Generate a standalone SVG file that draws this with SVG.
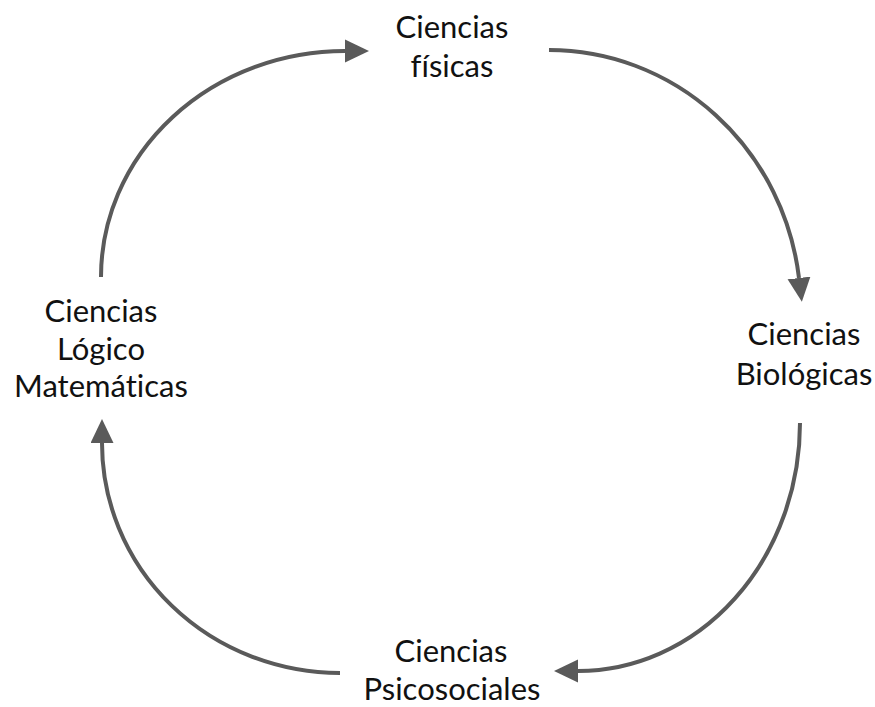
<svg xmlns="http://www.w3.org/2000/svg" width="875" height="707" viewBox="0 0 875 707">
<style>
  .lbl { font-family: "Lato", "Noto Sans", "Liberation Sans", sans-serif; font-size: 31px; fill: #111111; text-anchor: middle; font-variant-ligatures: none; font-feature-settings: "liga" 0; }
  .arc { fill: none; stroke: #5a5a5a; stroke-width: 4; }
</style>
<defs>
  <marker id="ah" markerUnits="userSpaceOnUse" markerWidth="26" markerHeight="24" refX="0" refY="11.5" orient="auto">
    <path d="M0,0 L24,11.5 L0,23 Z" fill="#5a5a5a"/>
  </marker>
</defs>
<rect width="875" height="707" fill="#ffffff"/>
<g id="connectors">
  <path class="arc" marker-end="url(#ah)" d="M101,277 A244 226 0 0 1 345,51"/>
  <path class="arc" marker-end="url(#ah)" d="M549,50 A252 260 0 0 1 799,278"/>
  <path class="arc" marker-end="url(#ah)" d="M800,423 A222 248 0 0 1 578,671"/>
  <path class="arc" marker-end="url(#ah)" d="M340,673 A238 230 0 0 1 102,443"/>
</g>
<g id="fisicas">
  <text class="lbl" x="452" y="38">Ciencias</text>
  <text class="lbl" x="452" y="77">físicas</text>
</g>
<g id="biologicas">
  <text class="lbl" x="804" y="345">Ciencias</text>
  <text class="lbl" x="804" y="385">Biológicas</text>
</g>
<g id="psicosociales">
  <text class="lbl" x="451" y="662">Ciencias</text>
  <text class="lbl" x="452" y="700">Psicosociales</text>
</g>
<g id="logico">
  <text class="lbl" x="101" y="322">Ciencias</text>
  <text class="lbl" x="101" y="360">Lógico</text>
  <text class="lbl" x="101" y="397">Matemáticas</text>
</g>
</svg>
